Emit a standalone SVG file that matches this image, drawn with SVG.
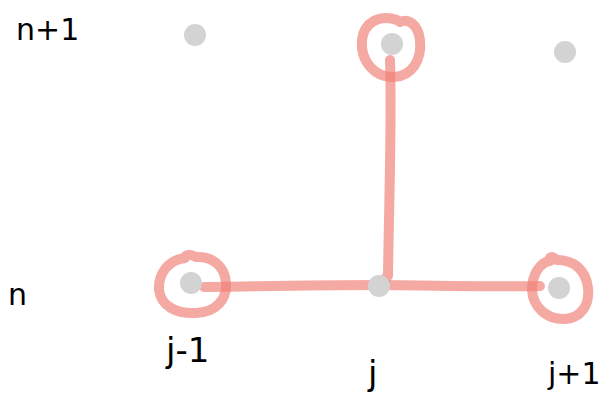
<svg xmlns="http://www.w3.org/2000/svg" width="606" height="395" viewBox="0 0 606 395">
<style>
.dot{fill:#d3d3d3}
.ink{fill:none;stroke:#f08078;stroke-opacity:0.68;stroke-width:10;stroke-linecap:round;stroke-linejoin:round}
.lbl{font-family:"DejaVu Sans","Liberation Sans",sans-serif;font-size:30px;fill:#000}
.big{font-size:34px}
</style>
<rect width="606" height="395" fill="#fff"/>
<g id="labels">
<text class="lbl" x="16" y="40">n+1</text>
<text class="lbl" x="8" y="305">n</text>
<text class="lbl big" x="166" y="362">j-1</text>
<text class="lbl big" x="368" y="385">j</text>
<text class="lbl" x="548" y="384">j+1</text>
</g>
<g id="connectors">
<path class="ink" d="M204,287 C260,286 320,285 379,285 C440,286 500,287 540,286"/>
<path class="ink" d="M390,60 C392,120 389,200 388,276 L379,284"/>
</g>
<g id="node-j-1-n1"><circle class="dot" cx="195" cy="35" r="11"/></g>
<g id="node-j-n1"><circle class="dot" cx="392" cy="44" r="11"/>
<path class="ink" d="M397,20 C380,14 364,22 362,40 C360,62 376,78 394,77 C412,76 422,60 420,40 C418,24 408,18 400,22"/></g>
<g id="node-j1-n1"><circle class="dot" cx="565" cy="52" r="11"/></g>
<g id="node-j-1-n"><circle class="dot" cx="191" cy="283" r="11"/>
<path class="ink" d="M185,258 C168,260 158,274 159,290 C161,306 176,314 196,313 C216,312 227,300 226,283 C225,266 212,256 196,257 C190,254 186,254 184,258"/></g>
<g id="node-j-n"><circle class="dot" cx="379" cy="286" r="11"/></g>
<g id="node-j1-n"><circle class="dot" cx="559" cy="288" r="11"/>
<path class="ink" d="M552,260 C540,262 532,274 532,290 C533,308 548,320 565,319 C580,318 590,306 588,288 C586,270 574,260 557,260 C552,256 549,256 550,261"/></g>
</svg>
